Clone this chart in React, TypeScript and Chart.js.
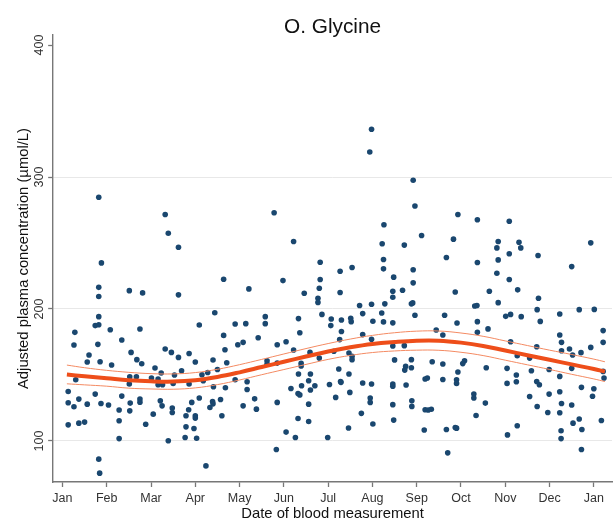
import { useEffect, useRef } from 'react';
import { Chart, registerables } from 'chart.js';

Chart.register(...registerables);

// ---- Tick labels ----
const monthLabels = ['Jan', 'Feb', 'Mar', 'Apr', 'May', 'Jun', 'Jul', 'Aug', 'Sep', 'Oct', 'Nov', 'Dec', 'Jan'];
const monthTickValues = [0, 1, 2, 3, 4, 5, 6, 7, 8, 9, 10, 11, 12];
const yTickValues = [100, 200, 300, 400];

// ---- Observations: [month of blood measurement (0 = 1 Jan), glycine µmol/L] ----
const obsJanFeb: [number, number][] = [
  [0.82, 284.7], [0.88, 234.9], [0.82, 216.4], [0.82, 209.4], [1.51, 213.9], [1.81, 212.2],
  [0.82, 194.2], [0.74, 187.4], [0.82, 188.1], [0.28, 182.3], [1.08, 184.3], [1.75, 184.8],
  [0.26, 172.7], [0.80, 173.2], [1.34, 176.5], [0.60, 165.1], [0.56, 159.8], [0.85, 160.0],
  [1.11, 157.5], [1.55, 167.1], [1.68, 161.6], [1.79, 158.5], [0.30, 146.4], [1.52, 148.6],
  [1.67, 148.6], [1.51, 143.1], [0.13, 137.5], [0.13, 128.9], [0.26, 125.9], [0.37, 131.7],
  [0.56, 127.9], [0.74, 135.5], [0.87, 128.4], [1.04, 127.2], [1.34, 134.0], [1.28, 123.4],
  [1.53, 128.7], [1.75, 131.7], [1.75, 129.4], [0.13, 112.2], [0.37, 113.5], [0.50, 114.3],
  [1.28, 115.3], [1.52, 122.8], [1.28, 101.8], [0.82, 86.2], [0.84, 75.6], [1.88, 112.7],
];

const obsMarApr: [number, number][] = [
  [2.32, 271.6], [2.39, 257.4], [2.62, 246.8], [3.64, 222.5], [2.62, 210.7], [3.44, 197.2],
  [3.09, 187.9], [3.90, 188.6], [3.64, 180.0], [3.96, 172.9], [2.32, 169.7], [2.46, 167.1],
  [2.62, 163.3], [2.86, 166.3], [3.00, 159.8], [3.67, 169.1], [3.40, 161.3], [3.71, 159.3],
  [2.09, 155.3], [2.23, 151.5], [2.01, 147.7], [2.16, 146.9], [2.16, 142.6], [2.26, 142.6],
  [2.53, 150.0], [2.69, 153.2], [2.50, 143.6], [2.86, 143.1], [3.15, 150.2], [3.28, 151.9],
  [3.18, 145.6], [3.50, 154.2], [3.41, 141.1], [3.68, 140.3], [3.90, 146.4], [2.21, 130.4],
  [2.25, 126.6], [2.48, 124.9], [2.48, 121.6], [2.05, 120.3], [2.92, 129.2], [2.85, 123.6],
  [2.79, 119.1], [3.00, 119.1], [3.00, 117.3], [3.09, 132.5], [3.33, 125.4], [3.39, 129.9],
  [3.40, 128.1], [3.57, 131.4], [3.60, 119.1], [2.79, 110.7], [2.97, 109.4], [2.77, 102.6],
  [3.03, 102.1], [2.39, 100.1], [3.24, 81.1],
];

const obsMayJun: [number, number][] = [
  [4.78, 272.9], [5.22, 251.1], [5.82, 235.4], [4.98, 221.5], [5.82, 222.3], [4.21, 215.2],
  [5.46, 211.9], [5.80, 215.7], [5.77, 208.1], [5.77, 205.0], [5.86, 195.9], [4.58, 194.2],
  [4.58, 188.9], [4.14, 188.9], [5.33, 192.7], [5.36, 182.0], [6.06, 187.4], [4.42, 178.2],
  [4.08, 174.7], [4.85, 172.9], [5.05, 175.2], [5.22, 168.9], [5.59, 167.1], [5.80, 162.8],
  [4.62, 160.8], [4.85, 159.0], [4.62, 158.2], [5.39, 158.8], [5.39, 156.8], [4.17, 144.9],
  [4.17, 139.0], [5.33, 150.7], [5.60, 150.7], [5.56, 145.6], [5.70, 141.8], [5.60, 138.6],
  [5.40, 141.8], [5.16, 139.8], [5.32, 136.0], [5.36, 134.9], [6.03, 142.8], [4.08, 126.6],
  [4.34, 131.9], [4.38, 124.1], [4.85, 129.2], [5.56, 127.9], [5.32, 117.0], [5.56, 114.7],
  [5.05, 106.7], [5.26, 102.6], [5.99, 102.6], [4.83, 93.5],
];

const obsJulAug: [number, number][] = [
  [6.98, 336.2], [6.94, 319.0], [7.92, 297.5], [7.96, 278.0], [7.26, 263.8], [8.11, 255.7],
  [7.22, 249.4], [7.72, 248.4], [7.25, 237.5], [7.25, 230.4], [7.92, 229.7], [6.27, 228.6],
  [6.54, 231.4], [7.48, 224.1], [6.27, 212.5], [7.46, 213.4], [7.46, 208.9], [7.68, 214.2],
  [7.92, 219.8], [6.71, 202.6], [6.98, 203.6], [7.28, 203.9], [7.88, 203.9], [7.91, 204.6],
  [7.96, 195.2], [6.78, 196.5], [7.21, 197.0], [7.01, 190.7], [7.25, 190.2], [7.46, 189.5],
  [6.30, 191.7], [6.51, 193.0], [6.52, 190.4], [6.30, 182.9], [6.26, 176.8], [6.78, 180.6],
  [6.98, 177.0], [7.46, 171.9], [7.72, 172.2], [6.47, 166.7], [6.54, 164.1], [6.54, 161.6],
  [6.24, 154.5], [6.47, 150.7], [6.28, 145.1], [6.29, 144.4], [6.17, 133.0], [7.50, 161.4],
  [7.75, 156.5], [7.73, 153.7], [7.88, 161.6], [7.88, 155.5], [8.19, 147.0], [6.78, 143.9],
  [6.98, 143.2], [7.46, 143.2], [7.46, 141.4], [7.76, 142.4], [6.49, 136.8], [6.95, 132.5],
  [6.95, 129.2], [7.89, 130.5], [7.89, 126.2], [7.46, 127.5], [6.75, 120.9], [7.48, 115.8],
  [7.01, 112.8], [6.46, 109.8], [8.17, 108.3], [8.19, 123.7], [6.07, 192.4], [6.13, 168.0],
];

const obsSepOct: [number, number][] = [
  [8.93, 271.6], [9.37, 267.6], [10.09, 266.5], [8.83, 252.9], [8.67, 239.0], [9.37, 235.2],
  [9.84, 251.1], [9.81, 246.3], [10.09, 241.8], [9.84, 237.2], [10.31, 250.6], [9.81, 227.1],
  [10.09, 222.3], [8.87, 212.9], [9.64, 213.4], [9.84, 204.8], [10.28, 214.5], [9.31, 202.3],
  [9.36, 202.6], [8.63, 195.2], [10.01, 194.4], [10.12, 195.9], [8.91, 189.4], [9.37, 190.4],
  [9.37, 182.3], [9.61, 184.9], [8.44, 184.1], [8.59, 180.3], [10.12, 175.2], [10.27, 164.6],
  [8.35, 160.0], [8.59, 158.3], [9.08, 160.8], [9.04, 158.6], [9.57, 155.5], [8.93, 152.2],
  [8.24, 147.7], [8.59, 146.6], [8.90, 146.4], [8.90, 143.6], [10.04, 155.0], [10.04, 143.6],
  [10.25, 150.0], [10.25, 144.9], [9.29, 135.5], [9.29, 132.6], [9.55, 128.7], [8.26, 123.4],
  [8.33, 124.0], [9.34, 119.3], [8.67, 108.7], [8.87, 110.2], [8.90, 109.7], [10.05, 104.6],
  [10.27, 111.5], [8.70, 91.0],
];

const obsNovDec: [number, number][] = [
  [10.35, 246.3], [10.74, 240.5], [11.93, 250.1], [11.50, 232.1], [10.75, 208.1], [10.72, 199.5],
  [10.79, 190.6], [10.36, 194.2], [11.23, 196.2], [11.67, 199.5], [12.01, 199.7], [11.23, 180.3],
  [11.27, 174.7], [11.27, 168.4], [11.45, 169.7], [11.52, 165.1], [11.71, 166.9], [11.93, 170.9],
  [12.21, 183.6], [12.21, 174.7], [10.71, 171.4], [10.55, 162.8], [10.59, 153.2], [10.99, 154.2],
  [11.50, 155.0], [11.23, 148.9], [12.21, 152.7], [12.23, 147.7], [10.71, 145.1], [10.77, 142.6],
  [10.99, 135.5], [10.55, 133.7], [11.23, 137.3], [11.72, 140.6], [12.00, 139.6], [11.97, 133.9],
  [10.72, 126.1], [10.96, 121.6], [11.23, 121.4], [11.27, 128.4], [11.50, 127.2], [11.53, 113.5],
  [11.67, 116.6], [11.73, 108.7], [12.17, 115.5], [11.26, 107.7], [11.26, 101.8], [11.72, 93.5],
];

// ---- Seasonal fit with 95% confidence band ----
const fitMonths = [0.1, 0.5, 1, 1.5, 2, 2.5, 3, 3.5, 4, 4.5, 5, 5.5, 6, 6.5, 7, 7.5, 8, 8.5, 9, 9.5, 10, 10.5, 11, 11.5, 12, 12.25];
const fitValues = [150.3, 149, 147.5, 146, 145.2, 145, 146, 148.5, 152, 156, 160, 164, 167.8, 171, 173.5, 175, 176, 176, 174.5, 172, 168.5, 165, 161.5, 158, 154.5, 152.5];
const ciUpper = [157.5, 155.5, 153.5, 152, 151, 150.8, 151.8, 154.3, 157.8, 161.8, 165.9, 170, 173.8, 177.2, 180, 182, 183.2, 183.3, 181.8, 179.3, 175.8, 172.3, 168.8, 165.5, 162, 160];
const ciLower = [143.3, 142.5, 141.5, 140, 139.4, 139.2, 140.2, 142.7, 146.2, 150.2, 154.1, 158, 161.8, 164.8, 167, 168.2, 168.8, 168.7, 167.2, 164.7, 161.2, 157.7, 154.2, 150.5, 147, 145];

const FONT = "'Liberation Sans', Arial, Helvetica, sans-serif";

export default function App() {
  const ref = useRef<HTMLCanvasElement | null>(null);

  useEffect(() => {
    document.body.style.margin = '0';
    const canvas = ref.current;
    if (!canvas) return;

    const toXY = (xs: number[], ys: number[]) => xs.map((x, i) => ({ x, y: ys[i] }));
    const obs = [...obsJanFeb, ...obsMarApr, ...obsMayJun, ...obsJulAug, ...obsSepOct, ...obsNovDec].map(
      ([x, y]) => ({ x, y })
    );

    const chart = new Chart(canvas, {
      type: 'scatter',
      data: {
        datasets: [
          {
            type: 'line',
            label: 'Fit',
            data: toXY(fitMonths, fitValues),
            borderColor: '#ee4e1a',
            borderWidth: 4,
            pointRadius: 0,
            tension: 0.4,
            fill: false,
            order: 0,
          } as any,
          {
            type: 'line',
            label: 'Upper CI',
            data: toXY(fitMonths, ciUpper),
            borderColor: '#f48a62',
            borderWidth: 1,
            pointRadius: 0,
            tension: 0.4,
            fill: false,
            order: 1,
          } as any,
          {
            type: 'line',
            label: 'Lower CI',
            data: toXY(fitMonths, ciLower),
            borderColor: '#f48a62',
            borderWidth: 1,
            pointRadius: 0,
            tension: 0.4,
            fill: false,
            order: 1,
          } as any,
          {
            label: 'Observed',
            data: obs,
            backgroundColor: '#1a476f',
            borderWidth: 0,
            pointRadius: 2.8,
            order: 3,
          },
        ],
      },
      options: {
        animation: false,
        responsive: false,
        events: [],
        layout: { padding: { left: 16.35, right: 0, top: 0, bottom: 4.7 } },
        plugins: {
          legend: { display: false },
          tooltip: { enabled: false },
          title: {
            display: true,
            text: 'O. Glycine',
            fullSize: false,
            color: '#111',
            font: { family: FONT, size: 20.8, weight: 'normal', lineHeight: 1 },
            padding: { top: 16.6, bottom: -2.4 },
          },
        },
        scales: {
          x: {
            type: 'linear',
            min: -0.21,
            max: 12.41,
            afterBuildTicks: (s: any) => {
              s.ticks = monthTickValues.map((v) => ({ value: v }));
            },
            ticks: {
              callback: (v: any) => monthLabels[Math.round(Number(v))],
              padding: 4,
              color: '#333',
              autoSkip: false,
              maxRotation: 0,
              font: { family: FONT, size: 12.5 },
            },
            grid: {
              drawOnChartArea: false,
              drawTicks: true,
              tickLength: 5,
              tickColor: '#777',
              tickWidth: 1.3,
            },
            border: { display: true, color: '#777', width: 1.4 },
            title: {
              display: true,
              text: 'Date of blood measurement',
              color: '#111',
              font: { family: FONT, size: 14.8, lineHeight: 1 },
              padding: { top: -3.5, bottom: 0 },
            },
          },
          y: {
            type: 'linear',
            min: 68.9,
            max: 407.6,
            afterBuildTicks: (s: any) => {
              s.ticks = yTickValues.map((v) => ({ value: v }));
            },
            ticks: {
              minRotation: 90,
              maxRotation: 90,
              crossAlign: 'center',
              padding: -2,
              color: '#333',
              font: { family: FONT, size: 12.5 },
            },
            grid: {
              color: (ctx: any) => (ctx.tick && ctx.tick.value === 400 ? 'rgba(0,0,0,0)' : '#e8e8e8'),
              lineWidth: 1,
              drawTicks: true,
              tickLength: 5,
              tickColor: '#777',
              tickWidth: 1.3,
            },
            border: { display: true, color: '#777', width: 1.4 },
            title: {
              display: true,
              text: 'Adjusted plasma concentration (µmol/L)',
              color: '#111',
              font: { family: FONT, size: 14.8, lineHeight: 1 },
              padding: { top: 0, bottom: 6 },
            },
          },
        },
      },
    });

    return () => chart.destroy();
  }, []);

  return (
    <div style={{ width: 616, height: 526, background: '#fff' }}>
      <canvas ref={ref} width={616} height={526} style={{ display: 'block', width: 616, height: 526 }} />
    </div>
  );
}
